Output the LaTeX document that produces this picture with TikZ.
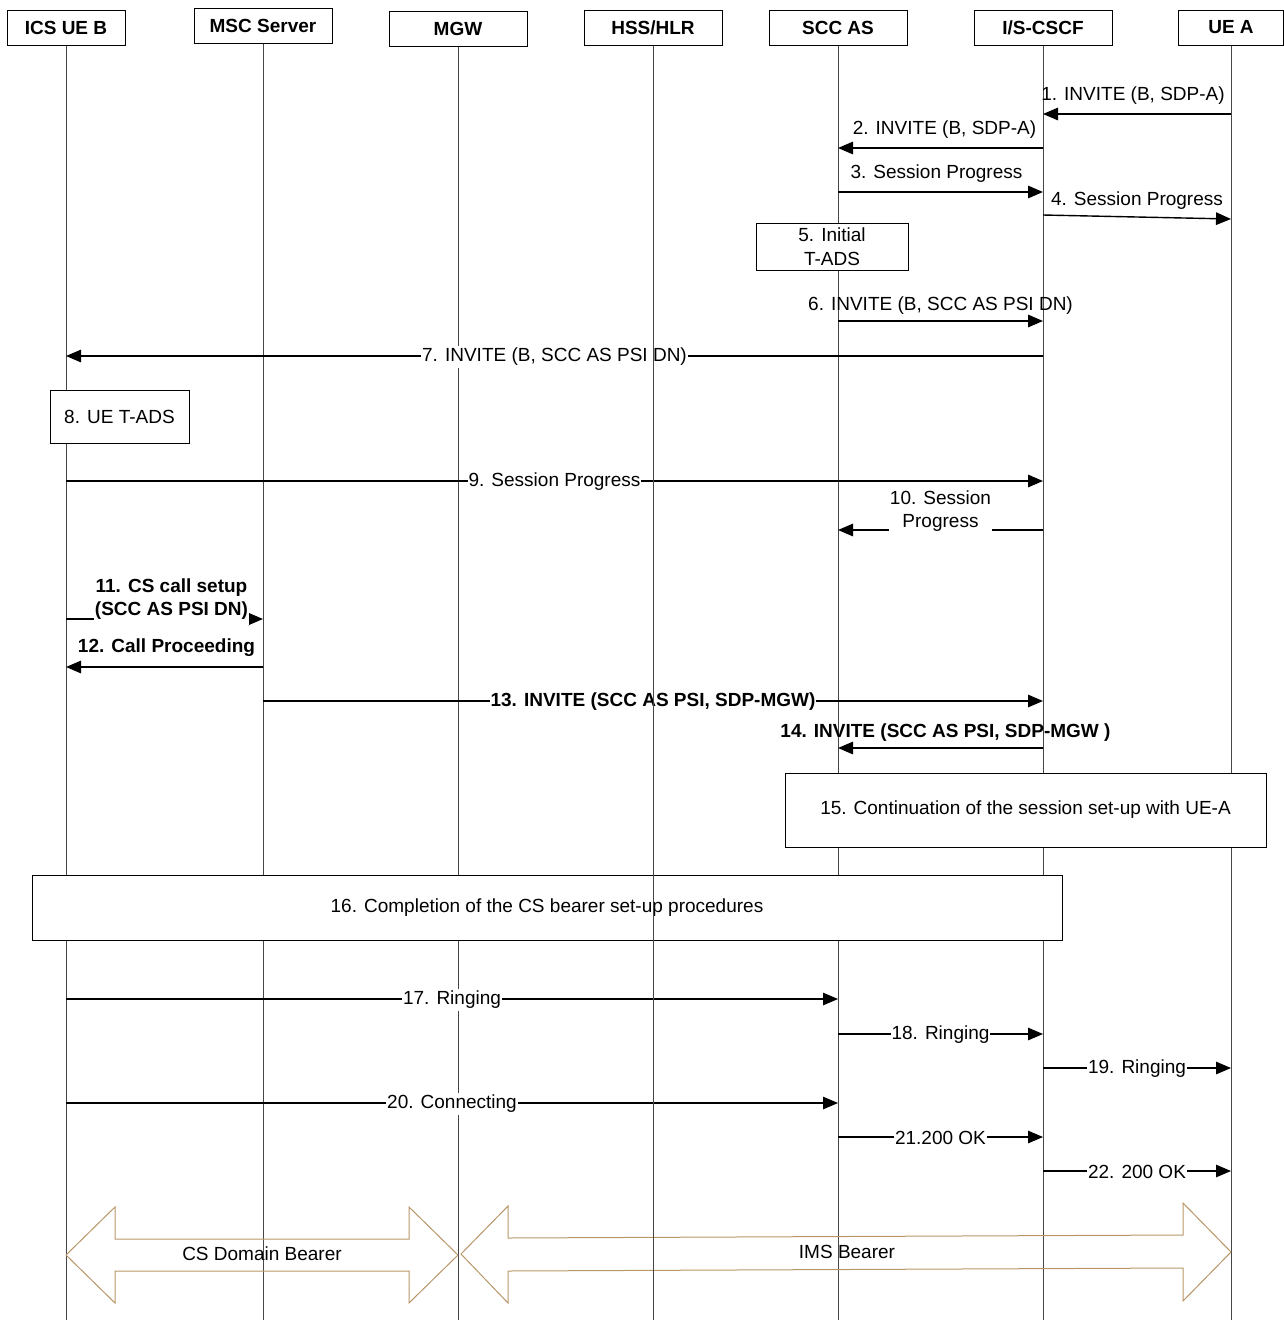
\documentclass[tikz,border=0pt]{standalone}
\usepackage{fontspec}
\setmainfont{Liberation Sans}
\usetikzlibrary{arrows.meta}
\definecolor{bearer}{RGB}{184,150,104}
\definecolor{lifegray}{RGB}{70,70,70}

\begin{document}
\begin{tikzpicture}[x=1pt, y=-1pt, font=\fontsize{19}{23.5}\selectfont,
	hdr/.style={draw, line width=1pt, fill=white, minimum height=35pt, inner sep=0pt, font=\fontsize{19}{23.5}\selectfont\bfseries},
	life/.style={line width=1pt, color=lifegray},
	msg/.style={line width=1.4pt, -{Triangle[length=15pt,width=12.5pt]}},
	lbl/.style={midway, yshift=18pt, inner sep=1pt},
	inl/.style={midway, fill=white, inner xsep=1pt, inner ysep=2pt, yshift=-1pt},
	strong/.style={font=\fontsize{19}{23.5}\selectfont\bfseries},
	stepbox/.style={draw, line width=1pt, fill=white, align=center, inner sep=0pt},
	bearerline/.style={draw=bearer, line width=1pt, line join=miter}]
			\useasboundingbox (0,0) rectangle (1284,1320);
			% entities
			\node[hdr, minimum width=118pt] (icsb) at (66,27.5) {ICS UE B};
			\node[hdr, minimum width=138pt] (msc) at (263,25.5) {MSC Server};
			\node[hdr, minimum width=138pt] (mgw) at (458,29) {MGW};
			\node[hdr, minimum width=138pt] (hss) at (653,27.5) {HSS/HLR};
			\node[hdr, minimum width=138pt] (scc) at (838,27.5) {SCC AS};
			\node[hdr, minimum width=138pt] (cscf) at (1043,27.5) {I/S-CSCF};
			\node[hdr, minimum width=105pt] (uea) at (1231,27.5) {UE A};
			\draw[life] (icsb.south) -- (icsb.south |- 0,1320);
			\draw[life] (msc.south) -- (msc.south |- 0,1320);
			\draw[life] (mgw.south) -- (mgw.south |- 0,1320);
			\draw[life] (scc.south) -- (scc.south |- 0,1320);
			\draw[life] (cscf.south) -- (cscf.south |- 0,1320);
			\draw[life] (uea.south) -- (uea.south |- 0,1320);
			% messages
			\draw[msg] (uea |- 0,114) -- node[lbl, xshift=-4pt] {1. INVITE (B, SDP-A)} (cscf |- 0,114);
			\draw[msg] (cscf |- 0,148) -- node[lbl, xshift=4pt] {2. INVITE (B, SDP-A)} (scc |- 0,148);
			\draw[msg] (scc |- 0,192) -- node[lbl, xshift=-4pt] {3. Session Progress} (cscf |- 0,192);
			\draw[msg] (cscf |- 0,215) -- node[lbl, yshift=-2pt] {4. Session Progress} (uea |- 0,219);
			\node[stepbox, minimum width=152pt, minimum height=47pt] (tads) at (832,246.5) {5. Initial\\T-ADS};
			\draw[msg] (scc |- 0,321) -- node[lbl, yshift=-3pt] {6. INVITE (B, SCC AS PSI DN)} (cscf |- 0,321);
			\draw[msg] (cscf |- 0,356) -- node[inl] {7. INVITE (B, SCC AS PSI DN)} (icsb |- 0,356);
			\node[stepbox, minimum width=139pt, minimum height=53pt] (uetads) at (119.5,416.5) {8. UE T-ADS};
			\draw[msg] (icsb |- 0,481) -- node[inl] {9. Session Progress} (cscf |- 0,481);
			\draw[msg] (cscf |- 0,530) -- node[inl, align=center, yshift=20pt, inner ysep=4pt] {10. Session\\Progress} (scc |- 0,530);
			\draw[msg] (icsb |- 0,619) -- node[inl, strong, align=center, xshift=7pt, yshift=21pt, inner ysep=5pt] {11. CS call setup\\(SCC AS PSI DN)} (msc |- 0,619);
			\draw[msg] (msc |- 0,667) -- node[lbl, strong, xshift=2pt, yshift=1pt] {12. Call Proceeding} (icsb |- 0,667);
			\draw[msg] (msc |- 0,701) -- node[inl, strong] {13. INVITE (SCC AS PSI, SDP-MGW)} (cscf |- 0,701);
			\draw[msg] (cscf |- 0,748) -- node[lbl, strong, xshift=5pt, yshift=-3pt] {14. INVITE (SCC AS PSI, SDP-MGW )} (scc |- 0,748);
			\node[stepbox, minimum width=481pt, minimum height=74pt] (contd) at (1025.5,810) {15. Continuation of the session set-up with UE-A};
			\node[stepbox, minimum width=1030pt, minimum height=65pt] (csdone) at (547,907.5) {16. Completion of the CS bearer set-up procedures};
			\draw[msg] (icsb |- 0,999) -- node[inl] {17. Ringing} (scc |- 0,999);
			\draw[msg] (scc |- 0,1034) -- node[inl] {18. Ringing} (cscf |- 0,1034);
			\draw[msg] (cscf |- 0,1068) -- node[inl] {19. Ringing} (uea |- 0,1068);
			\draw[msg] (icsb |- 0,1103) -- node[inl] {20. Connecting} (scc |- 0,1103);
			\draw[msg] (scc |- 0,1137) -- node[inl] {21.200 OK} (cscf |- 0,1137);
			\draw[msg] (cscf |- 0,1171) -- node[inl] {22. 200 OK} (uea |- 0,1171);
			% bearers
			\draw[bearerline] (icsb |- 0,1255) -- (115,1207) -- (115,1239) -- (409,1239) -- (409,1207) -- (mgw |- 0,1255) -- (409,1303) -- (409,1271) -- (115,1271) -- (115,1303) -- cycle;
			\node (csbearer) at (262,1254) {CS Domain Bearer};
			\draw[bearerline] (461,1254) -- (508,1206) -- (508,1238) -- (1183,1235) -- (1183,1203) -- (uea |- 0,1252) -- (1183,1301) -- (1183,1268) -- (508,1271) -- (508,1303) -- cycle;
			\node (imsbearer) at (847,1252) {IMS Bearer};
			\draw[life] (hss.south) -- (hss.south |- 0,1320);
\end{tikzpicture}
\end{document}
